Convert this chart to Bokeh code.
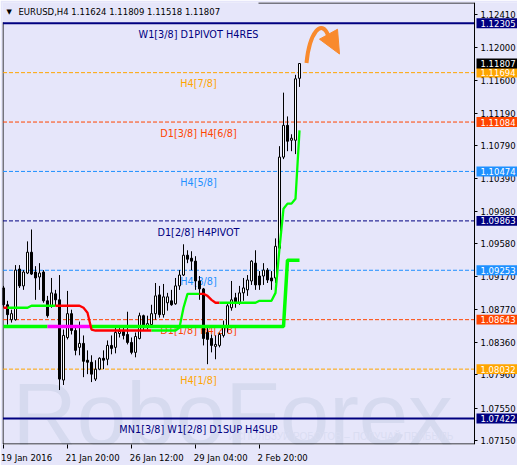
from bokeh.plotting import figure
from bokeh.models import (ColumnDataSource, FixedTicker, Label, BoxAnnotation, Range1d,
                          PrintfTickFormatter, CustomJSTickFormatter)
from bokeh.core.properties import value
from bokeh.embed import file_html
from bokeh.resources import INLINE

# ---------------- data ----------------
symbol_title = "EURUSD,H4  1.11624 1.11809 1.11518 1.11807"
last_price = 1.11807

bar_open = [
    1.09035, 1.08827, 1.08643, 1.08643, 1.09268, 1.09060, 1.09219, 1.09476, 1.09231, 1.09170,
    1.09231, 1.08876, 1.08815, 1.08962, 1.08888, 1.07897, 1.08423, 1.08717, 1.08509, 1.08301,
    1.08350, 1.08142, 1.08117, 1.07909, 1.08031, 1.08166, 1.08154, 1.08325, 1.08301, 1.08472,
    1.08497, 1.08460, 1.08362, 1.08239, 1.08411, 1.08692, 1.08558, 1.08582, 1.08717, 1.08949,
    1.08705, 1.08852, 1.08876, 1.08839, 1.09060, 1.09194, 1.09439, 1.09402, 1.09366, 1.09121,
    1.09023, 1.08484, 1.08411, 1.08313, 1.08325, 1.08448, 1.08546, 1.08790, 1.08913, 1.08852,
    1.08974, 1.09011, 1.09121, 1.09341, 1.09182, 1.09182, 1.09255, 1.09158, 1.09158, 1.09525,
    1.10651, 1.11043, 1.10859, 1.10859, 1.11624]
bar_high = [
    1.09060, 1.08876, 1.08766, 1.09317, 1.09317, 1.09255, 1.09610, 1.09757, 1.09304, 1.09341,
    1.09255, 1.08937, 1.09158, 1.09011, 1.09194, 1.08521, 1.08998, 1.08766, 1.08570, 1.08619,
    1.08448, 1.08264, 1.08203, 1.08142, 1.08178, 1.08264, 1.08386, 1.08448, 1.08558, 1.08570,
    1.08570, 1.08741, 1.08423, 1.08484, 1.08729, 1.08705, 1.08692, 1.08827, 1.09096, 1.09060,
    1.09084, 1.08974, 1.09011, 1.09158, 1.09255, 1.09574, 1.09500, 1.09488, 1.09427, 1.09182,
    1.09035, 1.08570, 1.08460, 1.08448, 1.08484, 1.08631, 1.08852, 1.09121, 1.08974, 1.09060,
    1.09158, 1.09194, 1.09378, 1.09500, 1.09243, 1.09341, 1.09280, 1.09243, 1.09647, 1.10786,
    1.11447, 1.11153, 1.10933, 1.11667, 1.11809]
bar_low = [
    1.08790, 1.08582, 1.08607, 1.08631, 1.09035, 1.09011, 1.09206, 1.09194, 1.08888, 1.09011,
    1.08852, 1.08668, 1.08790, 1.08815, 1.07774, 1.07836, 1.08399, 1.08460, 1.08203, 1.08203,
    1.07933, 1.07970, 1.07872, 1.07885, 1.08019, 1.08031, 1.08080, 1.08215, 1.08227, 1.08423,
    1.08399, 1.08337, 1.08215, 1.08178, 1.08399, 1.08509, 1.08521, 1.08546, 1.08643, 1.08668,
    1.08668, 1.08754, 1.08815, 1.08827, 1.09011, 1.09182, 1.09341, 1.09255, 1.09011, 1.08888,
    1.08325, 1.08093, 1.08239, 1.08154, 1.08301, 1.08423, 1.08484, 1.08754, 1.08790, 1.08827,
    1.08876, 1.08937, 1.09072, 1.09011, 1.09011, 1.09072, 1.09096, 1.09011, 1.09096, 1.09500,
    1.10626, 1.10724, 1.10724, 1.10688, 1.11518]
bar_close = [
    1.08827, 1.08705, 1.08717, 1.09255, 1.09060, 1.09231, 1.09476, 1.09206, 1.09158, 1.09219,
    1.08876, 1.08692, 1.08974, 1.08888, 1.07909, 1.08448, 1.08717, 1.08509, 1.08264, 1.08350,
    1.08129, 1.08117, 1.07970, 1.08031, 1.08166, 1.08142, 1.08325, 1.08288, 1.08484, 1.08497,
    1.08448, 1.08362, 1.08239, 1.08435, 1.08692, 1.08546, 1.08594, 1.08717, 1.08937, 1.08705,
    1.08925, 1.08925, 1.08827, 1.09060, 1.09194, 1.09439, 1.09390, 1.09366, 1.09121, 1.09023,
    1.08411, 1.08399, 1.08325, 1.08337, 1.08460, 1.08570, 1.08815, 1.08888, 1.08852, 1.08974,
    1.09035, 1.09133, 1.09366, 1.09072, 1.09072, 1.09255, 1.09133, 1.09121, 1.09549, 1.10651,
    1.11043, 1.10847, 1.10884, 1.11618, 1.11807]

# trailing stop line (thin) and its state (R = red, G = green)
trail_stop = [
    1.08790, 1.08790, 1.08790, 1.08790, 1.08790, 1.08790, 1.08790, 1.08815, 1.08815, 1.08815,
    1.08815, 1.08815, 1.08815, 1.08815, 1.08815, 1.08815, 1.08815, 1.08815, 1.08815, 1.08815,
    1.08790, 1.08729, 1.08521, 1.08509, 1.08509, 1.08509, 1.08509, 1.08509, 1.08509, 1.08509,
    1.08509, 1.08509, 1.08509, 1.08509, 1.08509, 1.08509, 1.08509, 1.08509, 1.08509, 1.08509,
    1.08509, 1.08509, 1.08509, 1.08509, 1.08546, 1.08790, 1.08962, 1.08962, 1.08962, 1.08962,
    1.08962, 1.08937, 1.08888, 1.08852, 1.08852, 1.08852, 1.08852, 1.08852, 1.08852, 1.08852,
    1.08852, 1.08852, 1.08852, 1.08852, 1.08876, 1.08876, 1.08876, 1.08876, 1.08974, 1.09525,
    1.10014, 1.10076, 1.10076, 1.10137, 1.10981]
trail_state = ("RR" + "GGGGGGGGGGGG" + "RRRRRRRRRRRRRRRRRRRRRRRR" + "GGGGGGGGGGGG"
               + "RRRRR" + "GGGGGGGGGGGGGGGGGGGG")

# thick line and its state (G = green, M = magenta)
base_line = [
    1.08558, 1.08558, 1.08558, 1.08558, 1.08558, 1.08558, 1.08558, 1.08558, 1.08558, 1.08558,
    1.08558, 1.08558, 1.08558, 1.08558, 1.08558, 1.08558, 1.08558, 1.08558, 1.08558, 1.08558,
    1.08558, 1.08558, 1.08558, 1.08558, 1.08558, 1.08558, 1.08558, 1.08558, 1.08558, 1.08558,
    1.08558, 1.08558, 1.08558, 1.08558, 1.08558, 1.08558, 1.08558, 1.08558, 1.08558, 1.08558,
    1.08558, 1.08558, 1.08558, 1.08558, 1.08558, 1.08558, 1.08558, 1.08558, 1.08558, 1.08558,
    1.08558, 1.08558, 1.08558, 1.08558, 1.08558, 1.08558, 1.08558, 1.08558, 1.08558, 1.08558,
    1.08558, 1.08558, 1.08558, 1.08558, 1.08558, 1.08558, 1.08558, 1.08558, 1.08558, 1.08558,
    1.08558, 1.09378, 1.09378, 1.09378, 1.09378]
base_state = "GGGGGGGGGGGG" + "MMMMMMMMMMM" + "GGGGGGGGGGGGGGGGGGGGGGGGGGGGGGGGGGGGGGGGGGGGGGGGGGGG"

level_prices = [1.12305, 1.11694, 1.11084, 1.10474, 1.09863, 1.09253, 1.08643, 1.08032, 1.07422]
level_names = ["W1[3/8] D1PIVOT H4RES", "H4[7/8]", "D1[3/8] H4[6/8]", "H4[5/8]",
               "D1[2/8] H4PIVOT", "H4[3/8]", "D1[1/8] H4[2/8]", "H4[1/8]",
               "MN1[3/8] W1[2/8] D1SUP H4SUP"]

price_ticks = [1.12410, 1.12000, 1.11600, 1.11190, 1.10790, 1.10390, 1.09980,
               1.09580, 1.09170, 1.08770, 1.08360, 1.07960, 1.07550, 1.07150]
time_tick_bars = [0, 16, 32, 48, 64]
time_tick_labels = ["19 Jan 2016", "21 Jan 20:00", "26 Jan 12:00", "29 Jan 04:00", "2 Feb 20:00"]

watermark = "RoboForex"
watermark_sub = "ИСПОЛЬЗУЙ РОБОТОВ – ПОЛУЧАЙ ПРИБЫЛЬ"

# ---------------- styles / layout ----------------
BG = "#E6E6FA"
NAVY, ORANGE, ORED, DBLUE = "#000080", "#FFA500", "#FF4500", "#1E90FF"
level_colors = [NAVY, ORANGE, ORED, DBLUE, NAVY, DBLUE, ORED, ORANGE, NAVY]
level_solid = [True, False, False, False, False, False, False, False, True]
trail_palette = {"R": "#FF0000", "G": "#00FF00"}
base_palette = {"G": "#00FF00", "M": "#FF00FF"}
FONT = "DejaVu Sans"

W, H = 517, 465
FR_L, FR_T, FR_R, FR_B = 2, 2, 517, 448     # plotting frame in pixels
CHART_R = 474                               # right edge of the chart area (price scale at right)


def X(px):            # pixel column -> bar index (4 px per bar, bar 0 at px 3)
    return (px - 3) / 4.0


def Y(py):            # pixel row -> price
    return 1.12585 - 0.00012241 * py


X0, X1 = X(FR_L), X(FR_R)
Y0, Y1 = Y(FR_B), Y(FR_T)

n = len(bar_open)
idx = list(range(n))

p = figure(width=W, height=H, title=None, output_backend="svg", toolbar_location=None, tools="",
           x_range=Range1d(X0, X1), y_range=Range1d(Y0, Y1),
           y_axis_location="right", x_axis_location="below",
           min_border_left=FR_L, min_border_top=FR_T,
           min_border_right=W - FR_R, min_border_bottom=H - FR_B,
           background_fill_color=BG, border_fill_color=BG)
p.xgrid.visible = False
p.ygrid.visible = False
p.outline_line_color = None

# right price scale, drawn at the chart's right edge
ya = p.yaxis[0]
ya.fixed_location = X(CHART_R)
ya.ticker = FixedTicker(ticks=price_ticks)
ya.formatter = PrintfTickFormatter(format="%.5f")
ya.major_tick_out = 3
ya.major_tick_in = 0
ya.minor_tick_out = 0
ya.minor_tick_in = 0
ya.major_label_standoff = 3
ya.major_label_text_font = FONT
ya.major_label_text_font_size = "8.5px"
ya.major_label_text_color = "black"
ya.axis_line_color = "black"
ya.major_tick_line_color = "black"

# bottom time axis: labels start at their tick
label_centres = [t + 2.1 * len(s) / 4.0 for t, s in zip(time_tick_bars, time_tick_labels)]
xa = p.xaxis[0]
xa.ticker = FixedTicker(ticks=label_centres, minor_ticks=time_tick_bars)
xa.formatter = CustomJSTickFormatter(args=dict(labels=time_tick_labels), code="return labels[index];")
xa.major_tick_out = 0
xa.major_tick_in = 0
xa.minor_tick_out = 4
xa.minor_tick_in = 0
xa.minor_tick_line_color = "black"
xa.major_label_standoff = 4
xa.major_label_text_font = FONT
xa.major_label_text_font_size = "8.5px"
xa.major_label_text_color = "black"
xa.axis_line_color = None

# watermark (behind everything)
p.text(x=[X(12)], y=[Y(417)], text=[watermark], text_font=value("Liberation Sans"),
       text_font_size="89px", text_color="#D6DAEF", text_align="left",
       text_baseline="alphabetic", level="image")
p.text(x=[X(228)], y=[Y(440)], text=[watermark_sub], text_font=value("Liberation Sans"),
       text_font_size="10px", text_color="#DADDF2", text_align="left",
       text_baseline="alphabetic", level="image")

# chart frame (left, top, bottom)
p.segment(x0=[X(2.5), X(258), X(2.5)], y0=[Y(22), Y(2.5), Y(447.5)],
          x1=[X(2.5), X(CHART_R), X(CHART_R)], y1=[Y(447.5), Y(2.5), Y(447.5)],
          line_color="black", line_width=1, level="underlay")

# Murray levels
for price, col, solid in zip(level_prices, level_colors, level_solid):
    p.segment(x0=[X(2.5)], y0=[price], x1=[X(CHART_R)], y1=[price], line_color=col,
              line_width=2 if solid else 1, line_dash="solid" if solid else "4 2",
              level="underlay")

# level labels (behind candles)
p.text(x=[X(198)] * len(level_prices), y=level_prices, text=level_names,
       text_color=level_colors, text_font=value(FONT), text_font_size="9.7px",
       text_align="center", text_baseline="alphabetic", y_offset=11.3)

# candles
src = ColumnDataSource(dict(
    x=idx, o=bar_open, h=bar_high, l=bar_low, c=bar_close,
    top=[max(o, c) for o, c in zip(bar_open, bar_close)],
    bottom=[min(o, c) for o, c in zip(bar_open, bar_close)],
    fill=["white" if c >= o else "black" for o, c in zip(bar_open, bar_close)],
))
p.segment(x0="x", y0="l", x1="x", y1="h", source=src, line_color="black", line_width=1)
p.vbar(x="x", top="top", bottom="bottom", width=0.5, source=src,
       fill_color="fill", line_color="black", line_width=1)


def runs(vals, states, palette):
    xs, ys, cs = [], [], []
    cur = None
    for i in range(1, len(vals)):
        s = states[i]
        if s != cur:
            xs.append([i - 1])
            ys.append([vals[i - 1]])
            cs.append(palette[s])
            cur = s
        xs[-1].append(i)
        ys[-1].append(vals[i])
    return xs, ys, cs


bx, by, bc = runs(base_line, base_state, base_palette)
p.multi_line(xs=bx, ys=by, line_color=bc, line_width=3.5)
tx, ty, tc = runs(trail_stop, trail_state, trail_palette)
p.multi_line(xs=tx, ys=ty, line_color=tc, line_width=2.3)

# forecast arrow
ARROW = "#F98A2D"
p.bezier(x0=[X(306)], y0=[Y(63)], x1=[X(328)], y1=[Y(36)],
         cx0=[X(309)], cy0=[Y(33)], cx1=[X(321)], cy1=[Y(17)],
         line_color=ARROW, line_width=4)
p.patch(x=[X(319), X(337), X(339)], y=[Y(39), Y(29), Y(54)],
        fill_color=ARROW, line_color=ARROW, line_width=1)

# title
p.add_layout(Label(x=X(6), y=Y(12), text="▼", text_font=FONT, text_font_size="7px",
                   text_color="black", text_baseline="middle", text_align="left"))
p.add_layout(Label(x=X(18), y=Y(12), text=symbol_title, text_font=FONT,
                   text_font_size="8.5px", text_color="black",
                   text_baseline="middle", text_align="left"))

# price tags on the right scale
tag_prices = level_prices + [last_price]
tag_colors = level_colors + ["black"]
half_h = 5 * 0.00012241
for price, col in zip(tag_prices, tag_colors):
    p.add_layout(BoxAnnotation(left=X(476), right=X(FR_R + 4), top=price + half_h,
                               bottom=price - half_h, fill_color=col, fill_alpha=1.0,
                               line_color=None))
    p.add_layout(Label(x=X(480), y=price, text=f"{price:.5f}", text_font=FONT,
                       text_font_size="8.5px", text_color="white",
                       text_baseline="middle", text_align="left"))

open("out.html", "w").write(file_html(p, INLINE))
